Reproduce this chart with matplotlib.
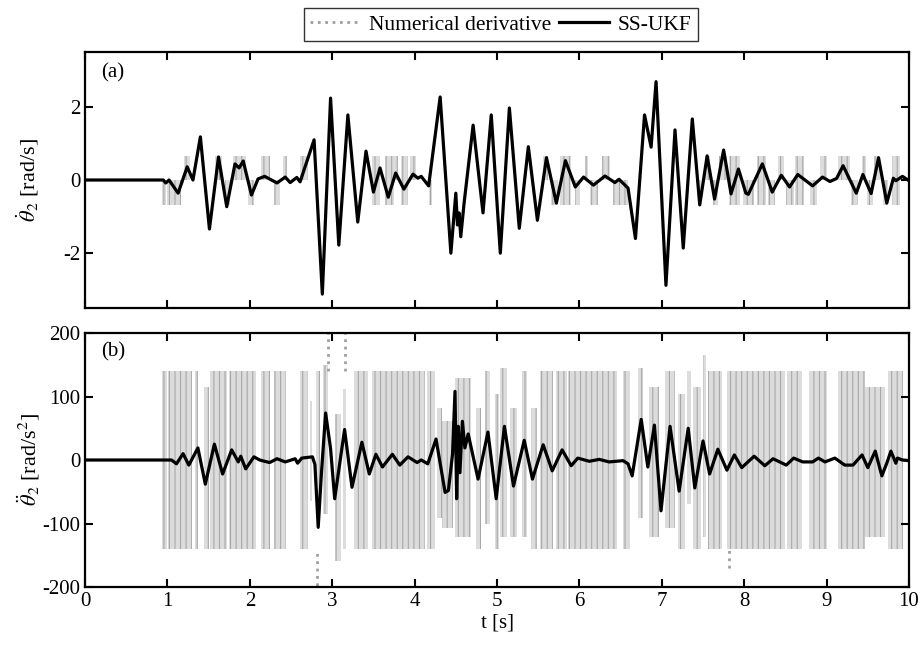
import numpy as np
import matplotlib.pyplot as plt
from matplotlib.lines import Line2D

plt.rcParams['font.family'] = ['Liberation Serif', 'DejaVu Serif']
plt.rcParams['mathtext.fontset'] = 'stix'
plt.rcParams['font.size'] = 15
plt.rcParams['axes.unicode_minus'] = False
plt.rcParams['hatch.linewidth'] = 0.8

# SS-UKF angular velocity [rad/s] (key points)
t_vel = [0, 0.95, 0.98, 1.02, 1.13, 1.24, 1.31, 1.40, 1.51, 1.62, 1.72, 1.82, 1.87, 1.92,
         2.02, 2.10, 2.18, 2.33, 2.43, 2.49, 2.57, 2.61, 2.78, 2.88, 2.98, 3.08, 3.19,
         3.31, 3.41, 3.50, 3.58, 3.68, 3.77, 3.87, 3.98, 4.04, 4.08, 4.17, 4.31, 4.44,
         4.50, 4.52, 4.54, 4.56, 4.60, 4.71, 4.83, 4.93, 5.04, 5.15, 5.27, 5.38, 5.49,
         5.60, 5.72, 5.83, 5.95, 6.05, 6.17, 6.31, 6.43, 6.48, 6.59, 6.68, 6.79, 6.87,
         6.93, 7.05, 7.16, 7.26, 7.37, 7.46, 7.55, 7.64, 7.75, 7.84, 7.93, 8.02, 8.05,
         8.22, 8.34, 8.45, 8.55, 8.65, 8.83, 8.95, 9.04, 9.12, 9.20, 9.36, 9.44, 9.54,
         9.63, 9.73, 9.81, 9.84, 9.92, 10.0]
vel_ukf = [0, 0, -0.08, 0.0, -0.36, 0.36, 0.0, 1.18, -1.34, 0.63, -0.73, 0.44, 0.33, 0.52,
           -0.41, 0.03, 0.10, -0.08, 0.08, -0.07, 0.07, -0.05, 1.10, -3.12, 2.24, -1.78, 1.78,
           -1.15, 0.79, -0.33, 0.33, -0.47, 0.19, -0.25, 0.16, 0.05, 0.10, -0.16, 2.27, -2.0,
           -0.36, -1.23, -0.90, -1.55, -0.64, 1.50, -0.90, 1.78, -2.0, 1.97, -1.32, 0.91, -1.10,
           0.61, -0.63, 0.53, -0.19, 0.08, -0.14, 0.11, -0.07, 0.02, -0.22, -1.60, 1.78, 0.90,
           2.69, -2.88, 1.37, -1.86, 1.67, -0.68, 0.66, -0.52, 0.82, -0.38, 0.30, -0.36, -0.39,
           0.44, -0.33, 0.13, -0.19, 0.15, -0.16, 0.08, -0.04, 0.04, 0.39, -0.36, 0.15, -0.37,
           0.61, -0.63, 0.05, -0.02, 0.10, -0.02]

# SS-UKF angular acceleration [rad/s^2]
t_acc = [0, 1.05, 1.11, 1.19, 1.26, 1.37, 1.46, 1.57, 1.67, 1.78, 1.86, 1.89, 1.95, 2.05,
         2.12, 2.24, 2.33, 2.43, 2.55, 2.58, 2.63, 2.76, 2.79, 2.83, 2.87, 2.92, 2.98, 3.03,
         3.15, 3.24, 3.36, 3.45, 3.53, 3.61, 3.73, 3.82, 3.92, 4.03, 4.08, 4.16, 4.26, 4.37,
         4.41, 4.46, 4.49, 4.51, 4.53, 4.55, 4.58, 4.61, 4.65, 4.77, 4.89, 4.99, 5.09, 5.20,
         5.33, 5.43, 5.56, 5.67, 5.79, 5.90, 5.98, 6.12, 6.24, 6.36, 6.53, 6.59, 6.64, 6.75,
         6.83, 6.91, 6.99, 7.10, 7.21, 7.32, 7.40, 7.50, 7.58, 7.68, 7.79, 7.88, 7.97, 8.12,
         8.25, 8.35, 8.51, 8.60, 8.71, 8.83, 8.90, 8.98, 9.10, 9.22, 9.32, 9.43, 9.50, 9.59,
         9.67, 9.73, 9.78, 9.84, 9.86, 9.92, 10.0]
acc_ukf = [0, 0, -6, 10, -8, 19, -38, 25, -22, 16, -3, 6, -14, 5,
           0, -4, 2, -3, 2, -5, 3, 5, -7, -106, -19, 74, 18, -61,
           48, -43, 28, -22, 9, -11, 9, -8, 5, -4, 0, -6, 33, -51,
           -48, 9, 108, -61, 53, -20, 61, 19, 41, -30, 44, -61, 53, -41,
           31, -30, 24, -17, 16, -9, 3, -2, 1, -3, -1, -6, -25, 64,
           -11, 55, -80, 53, -49, 50, -44, 30, -22, 17, -16, 8, -12, 6,
           -9, 2, -8, 3, -3, -3, 3, -3, 3, -8, -8, 8, -12, 14,
           -25, -5, 14, -5, 3, 0, -1]

# numerical derivative: regions covered by the quantised trace (start, end, low, high)
vel_nd_t0 = [0.93, 0.99, 1.20, 1.58, 1.70, 1.79, 1.98, 2.13, 2.29, 2.40, 2.61, 3.48, 3.64,
             3.75, 3.84, 3.94, 4.17, 5.56, 5.66, 5.76, 5.95, 6.07, 6.13, 6.27, 6.41, 7.44,
             7.52, 7.62, 7.69, 7.81, 7.98, 8.15, 8.29, 8.41, 8.51, 8.62, 8.80, 8.92, 9.14,
             9.30, 9.43, 9.49, 9.58, 9.69, 9.79]
vel_nd_t1 = [0.98, 1.17, 1.27, 1.66, 1.76, 1.95, 2.05, 2.24, 2.37, 2.45, 2.71, 3.58, 3.75,
             3.80, 3.92, 4.02, 4.21, 5.62, 5.74, 5.90, 6.01, 6.11, 6.23, 6.37, 6.59, 7.48,
             7.58, 7.68, 7.79, 7.95, 8.12, 8.27, 8.37, 8.48, 8.60, 8.72, 8.88, 9.00, 9.28,
             9.38, 9.48, 9.56, 9.65, 9.75, 9.89]
vel_nd_lo = [-0.67, -0.67, 0, 0, -0.67, 0, -0.67, 0, -0.67, 0, 0, -0.67, -0.67,
             0, -0.67, 0, -0.67, 0, -0.67, -0.67, -0.67, 0, -0.67, 0, -0.67, -0.67,
             0, -0.67, 0, -0.67, -0.67, -0.67, -0.67, 0, -0.67, -0.67, -0.67, 0, 0,
             -0.67, 0, -0.67, 0, -0.67, -0.67]
vel_nd_hi = [0, 0, 0.67, 0.67, 0, 0.67, 0, 0.67, 0, 0.67, 0.67, 0.67, 0.67,
             0.67, 0.67, 0.67, 0, 0.67, 0, 0.67, 0, 0.67, 0, 0.67, 0, 0,
             0.67, 0, 0.67, 0.67, 0, 0.67, 0, 0.67, 0, 0.67, 0, 0.67, 0.67,
             0, 0.67, 0, 0.67, 0, 0.67]

acc_nd_t0 = [0.94, 1.01, 1.33, 1.44, 1.52, 1.75, 2.14, 2.29, 2.61, 2.73, 2.80, 2.89, 3.03,
             3.13, 3.26, 3.48, 4.00, 4.15, 4.27, 4.33, 4.49, 4.75, 4.85, 4.98, 5.04, 5.16,
             5.30, 5.41, 5.52, 5.72, 5.86, 6.53, 6.71, 6.84, 7.04, 7.20, 7.30, 7.38, 7.50,
             7.56, 7.79, 8.10, 8.52, 8.78, 9.14, 9.47, 9.75]
acc_nd_t1 = [0.99, 1.30, 1.37, 1.50, 1.72, 2.08, 2.25, 2.44, 2.71, 2.75, 2.85, 2.95, 3.11,
             3.17, 3.44, 4.00, 4.13, 4.25, 4.33, 4.47, 4.69, 4.81, 4.91, 5.02, 5.12, 5.24,
             5.36, 5.48, 5.68, 5.85, 6.45, 6.61, 6.77, 6.96, 7.16, 7.28, 7.36, 7.48, 7.54,
             7.73, 8.09, 8.50, 8.70, 9.00, 9.47, 9.71, 9.93]
acc_nd_lo = [-140, -140, -140, -140, -140, -140, -140, -140, -140, -64, -85, -85, -159,
             -140, -140, -140, -140, -140, -91, -107, -122, -140, -100, -140, -122, -122,
             -122, -140, -140, -140, -140, -140, -91, -122, -107, -140, -70, -140, -122,
             -140, -140, -140, -140, -140, -140, -122, -140]
acc_nd_hi = [140, 140, 140, 115, 140, 140, 140, 140, 140, 93, 140, 150, 72,
             112, 140, 140, 140, 140, 82, 61, 129, 82, 140, 104, 145, 82,
             140, 82, 140, 140, 140, 140, 145, 115, 140, 104, 140, 115, 166,
             140, 140, 140, 140, 140, 140, 115, 140]

# isolated samples of the numerical derivative that leave the main band
acc_spike_t = [2.82, 2.945, 3.15, 7.82]
acc_spike_lo = [-210, 140, 140, -170]
acc_spike_hi = [-140, 210, 210, -140]

nd_face = '#dcdcdc'
nd_edge = '#a8a8a8'

fig = plt.figure(figsize=(9.24, 6.48), dpi=100)
ax1 = fig.add_axes([0.092, 0.5247, 0.8918, 0.395])
ax2 = fig.add_axes([0.092, 0.0941, 0.8918, 0.392])

w = np.array(vel_nd_t1) - np.array(vel_nd_t0)
h = np.array(vel_nd_hi) - np.array(vel_nd_lo)
ax1.bar(vel_nd_t0, h, width=w, bottom=vel_nd_lo, align='edge', color=nd_face,
        edgecolor=nd_edge, hatch='|||', linewidth=0, zorder=1)
ax1.plot(t_vel, vel_ukf, color='k', lw=2.3, solid_joinstyle='round', zorder=3)

w = np.array(acc_nd_t1) - np.array(acc_nd_t0)
h = np.array(acc_nd_hi) - np.array(acc_nd_lo)
ax2.bar(acc_nd_t0, h, width=w, bottom=acc_nd_lo, align='edge', color=nd_face,
        edgecolor=nd_edge, hatch='|||', linewidth=0, zorder=1)
ax2.vlines(acc_spike_t, acc_spike_lo, acc_spike_hi, colors='#a0a0a0', linestyles=':', lw=2, zorder=2)
ax2.plot(t_acc, acc_ukf, color='k', lw=2.3, solid_joinstyle='round', zorder=3)

for ax in (ax1, ax2):
    ax.set_xlim(0, 10)
    ax.set_xticks(range(0, 11))
    ax.tick_params(direction='in', top=True, right=True, length=6, width=1.5, labelsize=15)
    for s in ax.spines.values():
        s.set_linewidth(1.6)

ax1.set_ylim(-3.5, 3.5)
ax1.set_yticks([-2, 0, 2])
ax1.tick_params(labelbottom=False)
ax1.set_ylabel(r'$\dot{\theta}_2$ [rad/s]', fontsize=16, labelpad=16)
ax1.text(0.02, 0.92, '(a)', transform=ax1.transAxes, fontsize=15, va='center')

ax2.set_ylim(-200, 200)
ax2.set_yticks([-200, -100, 0, 100, 200])
ax2.set_ylabel(r'$\ddot{\theta}_2$ [rad/s$^2$]', fontsize=16, labelpad=0)
ax2.set_xlabel('t [s]', fontsize=15, labelpad=2)
ax2.text(0.02, 0.925, '(b)', transform=ax2.transAxes, fontsize=15, va='center')

handles = [Line2D([], [], color='#a0a0a0', ls=':', lw=2),
           Line2D([], [], color='k', lw=2.3)]
leg = fig.legend(handles, ['Numerical derivative', 'SS-UKF'], loc='center',
                 bbox_to_anchor=(0.542, 0.962), ncol=2, fontsize=15.5, frameon=True,
                 fancybox=False, handlelength=2.3, handletextpad=0.4, columnspacing=0.4,
                 borderpad=0.3, borderaxespad=0)
leg.get_frame().set_edgecolor('k')
leg.get_frame().set_linewidth(1.0)

fig.savefig('out.png', dpi=100)
